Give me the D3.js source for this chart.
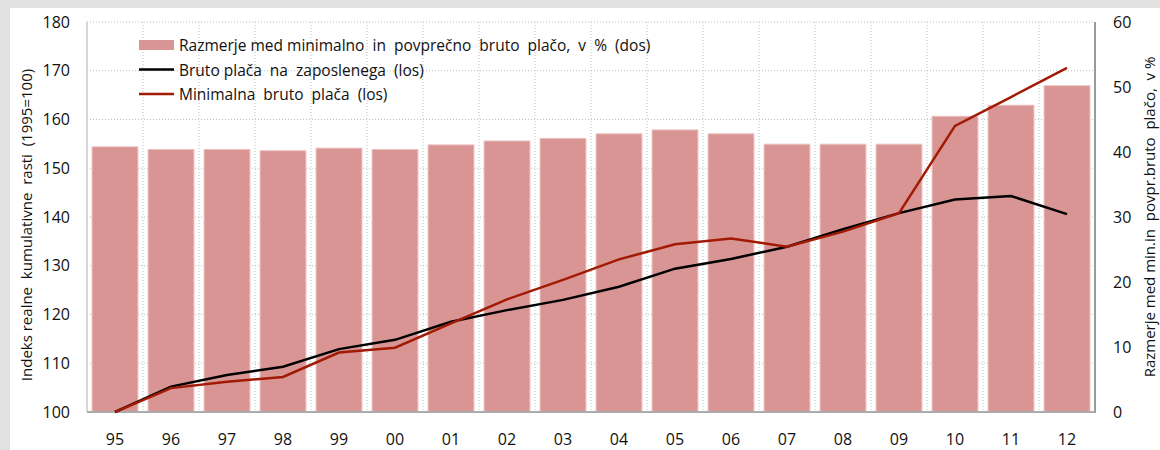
<!DOCTYPE html>
<html>
<head>
<meta charset="utf-8">
<script src="https://cdn.jsdelivr.net/npm/d3@7"></script>
<style>
    html, body { margin: 0; padding: 0; background: #e1e1e1; }
    svg { display: block; }
    text { font-family: "Open Sans", sans-serif; fill: #111; }
</style>
</head>
<body>
<svg id="chart" width="1160" height="450"></svg>
<script>
'use strict';

var years = ['95', '96', '97', '98', '99', '00', '01', '02', '03', '04', '05', '06', '07', '08', '09', '10', '11', '12'];

// razmerje min / povprecna bruto placa, v % (desna os)
var ratio = [40.8, 40.4, 40.4, 40.2, 40.6, 40.4, 41.1, 41.7, 42.1, 42.8, 43.4, 42.8, 41.2, 41.2, 41.2, 45.5, 47.2, 50.2];

// indeks 1995=100 (leva os)
var avgWage = [100, 105.2, 107.6, 109.3, 112.9, 114.8, 118.5, 120.9, 123.0, 125.7, 129.4, 131.4, 133.9, 137.5, 140.8, 143.6, 144.3, 140.6];
var minWage = [100, 104.9, 106.2, 107.2, 112.2, 113.2, 118.2, 123.1, 127.1, 131.3, 134.4, 135.6, 133.9, 137.0, 140.8, 158.7, 164.6, 170.6];

var leftTicks = [100, 110, 120, 130, 140, 150, 160, 170, 180];
var rightTicks = [0, 10, 20, 30, 40, 50, 60];

var legendLabels = [
    'Razmerje med minimalno  in  povprečno  bruto  plačo,  v  %  (dos)',
    'Bruto plača  na  zaposlenega  (los)',
    'Minimalna  bruto  plača  (los)'
];

var svg = d3.select('#chart');

var pLeft = 87, pRight = 1095, pTop = 22, pBottom = 412;

// white panel
svg.append('rect')
    .attr('x', 10).attr('y', 8)
    .attr('width', 1150).attr('height', 442)
    .style('fill', '#ffffff');

var x = d3.scaleBand()
    .domain(years)
    .range([pLeft, pRight])
    .paddingInner(0.18)
    .paddingOuter(0.09);

var yL = d3.scaleLinear().domain([100, 180]).range([pBottom, pTop]);
var yR = d3.scaleLinear().domain([0, 60]).range([pBottom, pTop]);

var step = x.step();

// grid
svg.append('g').selectAll('line')
    .data(leftTicks.slice(1))
    .enter()
    .append('line')
    .attr('x1', pLeft).attr('x2', pRight)
    .attr('y1', function(d) { return yL(d); })
    .attr('y2', function(d) { return yL(d); })
    .style('stroke', '#bdbdbd')
    .style('stroke-width', 1)
    .style('stroke-dasharray', '1,2');

svg.append('g').selectAll('line')
    .data(years.slice(1))
    .enter()
    .append('line')
    .attr('x1', function(d) { return x(d) - (step - x.bandwidth()) / 2; })
    .attr('x2', function(d) { return x(d) - (step - x.bandwidth()) / 2; })
    .attr('y1', pTop).attr('y2', pBottom)
    .style('stroke', '#bdbdbd')
    .style('stroke-width', 1)
    .style('stroke-dasharray', '1,2');

// bars
svg.append('g').selectAll('rect')
    .data(ratio)
    .enter()
    .append('rect')
    .attr('x', function(d, i) { return x(years[i]); })
    .attr('y', function(d) { return yR(d); })
    .attr('width', x.bandwidth())
    .attr('height', function(d) { return pBottom - yR(d); })
    .style('fill', '#d99594')
    .style('stroke', '#ecc4c3')
    .style('stroke-width', 1);

// frame
svg.append('line')
    .attr('x1', pLeft).attr('x2', pLeft).attr('y1', pTop).attr('y2', pBottom)
    .style('stroke', '#c8c8c8').style('stroke-width', 1.5);
svg.append('line')
    .attr('x1', pRight).attr('x2', pRight).attr('y1', pTop).attr('y2', pBottom + 1)
    .style('stroke', '#9a9a9a').style('stroke-width', 2);
svg.append('line')
    .attr('x1', pLeft).attr('x2', pRight).attr('y1', pBottom).attr('y2', pBottom)
    .style('stroke', '#ababab').style('stroke-width', 2);

// lines
var line = d3.line()
    .x(function(d, i) { return x(years[i]) + x.bandwidth() / 2; })
    .y(function(d) { return yL(d); });

svg.append('path')
    .datum(avgWage)
    .attr('d', line)
    .style('fill', 'none')
    .style('stroke', '#000000')
    .style('stroke-width', 2.5);

svg.append('path')
    .datum(minWage)
    .attr('d', line)
    .style('fill', 'none')
    .style('stroke', '#a11a04')
    .style('stroke-width', 2.5);

// axes
var axisL = svg.append('g')
    .attr('transform', 'translate(' + (pLeft - 17) + ',0)')
    .call(d3.axisLeft(yL).tickValues(leftTicks).tickSize(0).tickPadding(0));

var axisR = svg.append('g')
    .attr('transform', 'translate(' + (pRight + 18) + ',0)')
    .call(d3.axisRight(yR).tickValues(rightTicks).tickSize(0).tickPadding(0));

var axisB = svg.append('g')
    .attr('transform', 'translate(0,' + (pBottom + 22) + ')')
    .call(d3.axisBottom(x).tickSize(0).tickPadding(0));

[axisL, axisR, axisB].forEach(function(a) {
    a.select('.domain').remove();
    a.selectAll('text')
        .style('font-family', '"Open Sans", sans-serif')
        .style('font-size', '16px')
        .style('fill', '#111');
});

// axis titles
svg.append('text')
    .attr('transform', 'translate(32,225) rotate(-90)')
    .attr('text-anchor', 'middle')
    .style('font-size', '15px')
    .style('white-space', 'pre')
    .text('Indeks realne  kumulativne  rasti  (1995=100)');

svg.append('text')
    .attr('transform', 'translate(1155,217) rotate(-90)')
    .attr('text-anchor', 'middle')
    .style('font-size', '15px')
    .style('white-space', 'pre')
    .text('Razmerje med min.in  povpr.bruto  plačo,  v %');

// legend
var legend = svg.append('g');

legend.append('rect')
    .attr('x', 139).attr('y', 40)
    .attr('width', 35).attr('height', 10)
    .style('fill', '#d99594');

legend.append('line')
    .attr('x1', 139).attr('x2', 174).attr('y1', 69.5).attr('y2', 69.5)
    .style('stroke', '#000000').style('stroke-width', 2.5);

legend.append('line')
    .attr('x1', 139).attr('x2', 174).attr('y1', 94).attr('y2', 94)
    .style('stroke', '#a11a04').style('stroke-width', 2.5);

legend.selectAll('text')
    .data(legendLabels)
    .enter()
    .append('text')
    .attr('x', 179)
    .attr('y', function(d, i) { return 51 + i * 24.5; })
    .style('font-size', '15.5px')
    .style('white-space', 'pre')
    .text(function(d) { return d; });
</script>
</body>
</html>
